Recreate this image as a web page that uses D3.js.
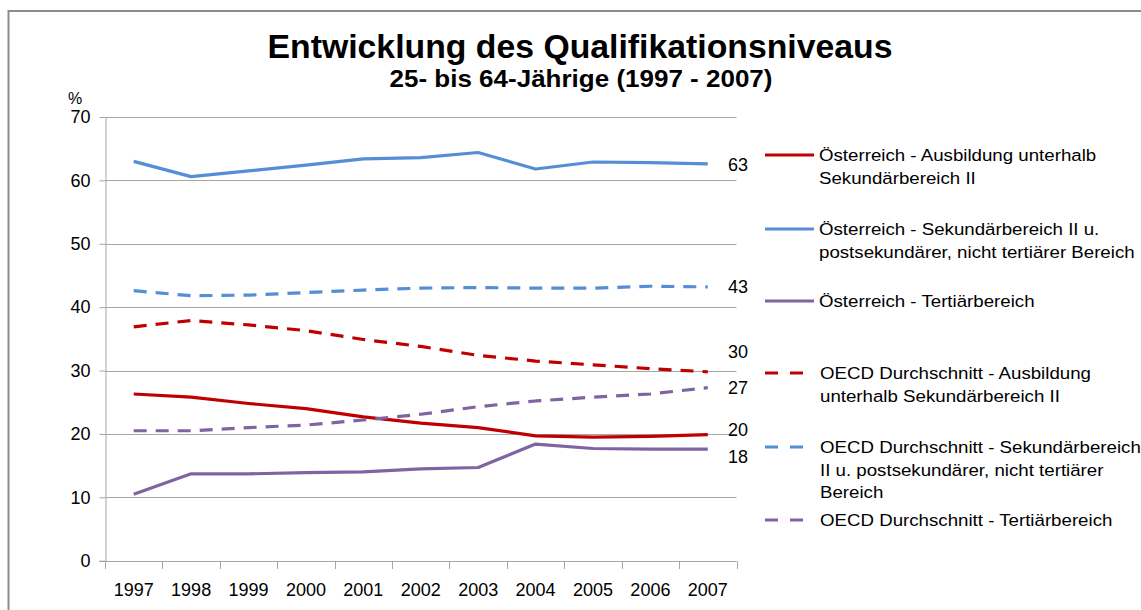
<!DOCTYPE html>
<html>
<head>
<meta charset="utf-8">
<script src="https://cdn.jsdelivr.net/npm/d3@7"></script>
<style>
  body { margin: 0; background: #fff; }
  text { font-family: "Liberation Sans", Arial, sans-serif; fill: #000; }
</style>
</head>
<body>
<div id="chart"></div>
<script>
const width = 1141;
const height = 610;

// Jahre (Kategorien)
const years = ["1997", "1998", "1999", "2000", "2001", "2002", "2003", "2004", "2005", "2006", "2007"];

// Werte in %
const atUnterSekII   = [26.3, 25.8, 24.8, 24.0, 22.7, 21.7, 21.0, 19.7, 19.5, 19.6, 19.9];
const atSekII        = [63.0, 60.6, 61.5, 62.4, 63.4, 63.6, 64.4, 61.8, 62.9, 62.8, 62.6];
const atTertiaer     = [10.5, 13.7, 13.7, 13.9, 14.0, 14.5, 14.7, 18.4, 17.7, 17.6, 17.6];
const oecdUnterSekII = [36.9, 37.9, 37.2, 36.3, 34.9, 33.8, 32.4, 31.5, 30.9, 30.3, 29.8];
const oecdSekII      = [42.6, 41.8, 41.9, 42.3, 42.7, 43.0, 43.1, 43.0, 43.0, 43.3, 43.2];
const oecdTertiaer   = [20.5, 20.5, 21.0, 21.4, 22.2, 23.1, 24.3, 25.2, 25.8, 26.3, 27.3];

// Beschriftung am Linienende
const endLabels = ["20", "63", "18", "30", "43", "27"];
// Verschiebung der Endbeschriftung (px), damit sie sich nicht überlappen
const endShift = [-5, 1, 8, -20, 0, 0];

const yTicks = [0, 10, 20, 30, 40, 50, 60, 70];

const seriesNames = [
    ["Österreich - Ausbildung unterhalb", "Sekundärbereich II"],
    ["Österreich - Sekundärbereich II u.", "postsekundärer, nicht tertiärer Bereich"],
    ["Österreich - Tertiärbereich"],
    ["OECD Durchschnitt - Ausbildung", "unterhalb Sekundärbereich II"],
    ["OECD Durchschnitt - Sekundärbereich", "II u. postsekundärer, nicht tertiärer", "Bereich"],
    ["OECD Durchschnitt - Tertiärbereich"]
];

const red = "#c00000", blue = "#558ed5", purple = "#8064a2";

const series = [
    { values: atUnterSekII,   color: red,    dashed: false },
    { values: atSekII,        color: blue,   dashed: false },
    { values: atTertiaer,     color: purple, dashed: false },
    { values: oecdUnterSekII, color: red,    dashed: true },
    { values: oecdSekII,      color: blue,   dashed: true },
    { values: oecdTertiaer,   color: purple, dashed: true }
].map((s, i) => ({ ...s, name: seriesNames[i], end: endLabels[i], shift: endShift[i] }));

const svg = d3.select("#chart").append("svg")
    .attr("width", width)
    .attr("height", height);

// Rahmen
svg.append("rect")
    .attr("x", 8.5).attr("y", 11)
    .attr("width", 1150).attr("height", 620)
    .attr("fill", "none")
    .attr("stroke", "#8c8c8c")
    .attr("stroke-width", 2);

// Titel
svg.append("text")
    .attr("x", 580).attr("y", 58)
    .attr("text-anchor", "middle")
    .attr("font-size", 34).attr("font-weight", "bold")
    .attr("textLength", 625).attr("lengthAdjust", "spacingAndGlyphs")
    .text("Entwicklung des Qualifikationsniveaus");

svg.append("text")
    .attr("x", 581).attr("y", 87)
    .attr("text-anchor", "middle")
    .attr("font-size", 24).attr("font-weight", "bold")
    .attr("textLength", 383).attr("lengthAdjust", "spacingAndGlyphs")
    .text("25- bis 64-Jährige (1997 - 2007)");

const x = d3.scaleBand().domain(years).range([105, 736.5]);
const y = d3.scaleLinear().domain([0, 70]).range([560.7, 117]);

// Gitterlinien
svg.append("g")
    .selectAll("line")
    .data(yTicks.filter(d => d > 0))
    .enter().append("line")
    .attr("x1", 105).attr("x2", 736.5)
    .attr("y1", d => Math.round(y(d)) + 0.5)
    .attr("y2", d => Math.round(y(d)) + 0.5)
    .attr("stroke", "#a6a6a6");

// Y-Achse
const yAxis = svg.append("g")
    .attr("transform", "translate(105.5,0)")
    .call(d3.axisLeft(y).tickValues(yTicks).tickSize(6).tickPadding(9).tickSizeOuter(0));
yAxis.select(".domain").attr("stroke", "#a6a6a6");
yAxis.selectAll(".tick line").attr("stroke", "#a6a6a6");
yAxis.selectAll(".tick text")
    .attr("font-size", 18)
    .attr("font-family", "Liberation Sans, Arial, sans-serif")
    .attr("fill", "#000");

svg.append("text")
    .attr("x", 68).attr("y", 104)
    .attr("font-size", 16)
    .text("%");

// X-Achse
const xAxis = svg.append("g")
    .attr("transform", `translate(0,${Math.round(y(0)) + 0.5})`)
    .call(d3.axisBottom(x).tickSize(0).tickPadding(22));
xAxis.select(".domain").remove();
xAxis.selectAll(".tick text")
    .attr("font-size", 18)
    .attr("font-family", "Liberation Sans, Arial, sans-serif")
    .attr("fill", "#000");

svg.append("line")
    .attr("x1", 99).attr("x2", 736.5)
    .attr("y1", Math.round(y(0)) + 0.5).attr("y2", Math.round(y(0)) + 0.5)
    .attr("stroke", "#a6a6a6");

// Teilstriche zwischen den Kategorien
svg.append("g")
    .selectAll("line")
    .data(years.map(d => x(d)).concat([x.range()[1]]))
    .enter().append("line")
    .attr("x1", d => Math.round(d) + 0.5).attr("x2", d => Math.round(d) + 0.5)
    .attr("y1", Math.round(y(0))).attr("y2", Math.round(y(0)) + 8)
    .attr("stroke", "#a6a6a6");

// Linien
const line = d3.line()
    .x((d, i) => x(years[i]) + x.bandwidth() / 2)
    .y(d => y(d));

svg.append("g")
    .selectAll("path")
    .data(series)
    .enter().append("path")
    .attr("d", d => line(d.values))
    .attr("fill", "none")
    .attr("stroke", d => d.color)
    .attr("stroke-width", 3.2)
    .attr("stroke-linejoin", "round")
    .attr("stroke-dasharray", d => d.dashed ? "13,9" : null);

// Endwerte
svg.append("g")
    .selectAll("text")
    .data(series)
    .enter().append("text")
    .attr("x", 728)
    .attr("y", d => y(d.values[d.values.length - 1]) + d.shift)
    .attr("dy", "0.35em")
    .attr("font-size", 18)
    .text(d => d.end);

// Legende
const legendY = [155, 229, 301, 373, 447, 520];
const legend = svg.append("g")
    .selectAll("g")
    .data(series)
    .enter().append("g")
    .attr("transform", (d, i) => `translate(765,${legendY[i]})`);

legend.append("line")
    .attr("x1", 0).attr("x2", d => d.dashed ? 40 : 49)
    .attr("y1", 0).attr("y2", 0)
    .attr("stroke", d => d.color)
    .attr("stroke-width", 3.2)
    .attr("stroke-dasharray", d => d.dashed ? "13,12" : null);

legend.append("text")
    .attr("transform", d => `translate(${d.dashed ? 55 : 54},0) scale(1.08,1)`)
    .attr("font-size", 17.3)
    .selectAll("tspan")
    .data(d => d.name)
    .enter().append("tspan")
    .attr("x", 0)
    .attr("dy", (d, i) => i === 0 ? "0.35em" : 22.5)
    .text(d => d);
</script>
</body>
</html>
